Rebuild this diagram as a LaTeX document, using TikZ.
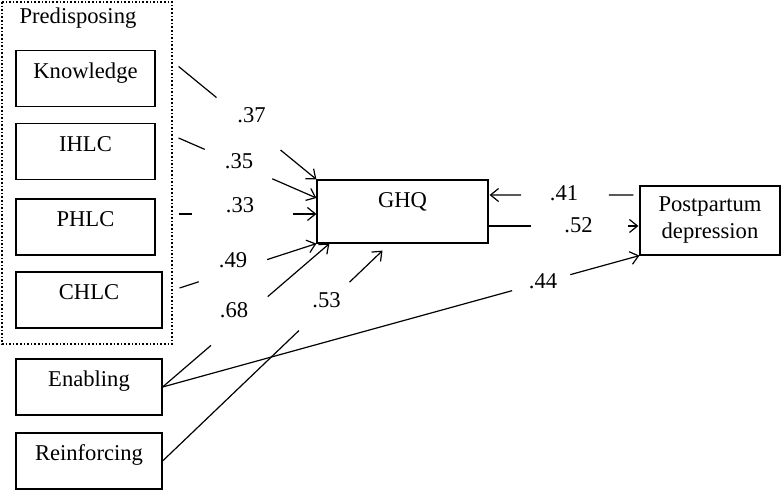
\documentclass[tikz,border=0pt]{standalone}
\usepackage{fontspec}
\setmainfont{Liberation Serif}
\usetikzlibrary{arrows.meta, calc}

\begin{document}
\begin{tikzpicture}[x=0.5pt, y=-0.5pt,
    font=\fontsize{11.3}{13.5}\selectfont,
    line width=0.6pt,
    factor/.style={draw, minimum height=28pt, text height=6pt, text depth=6pt, inner sep=0pt},
    effect/.style={-{Straight Barb[length=4pt, width=6.5pt]}},
    coef/.style={inner sep=1pt}]
    \useasboundingbox (0,0) rectangle (782,491);

    % predisposing factors
    \draw[densely dotted, line width=0.8pt] (2,2) rectangle (172,344);
    \node[anchor=base west, inner sep=0pt] (pre) at (19,24) {Predisposing};
    \node[factor, minimum width=69.5pt] (know) at (85.5,78.5) {Knowledge};
    \node[factor, minimum width=69.5pt] (ihlc) at (85.5,151.5) {IHLC};
    \node[factor, minimum width=69.5pt] (phlc) at (85.5,227) {PHLC};
    \node[factor, minimum width=73pt] (chlc) at (89,300) {CHLC};

    \node[factor, minimum width=73pt] (enab) at (89,387) {Enabling};
    \node[factor, minimum width=73pt] (rein) at (89,461) {Reinforcing};

    \node[draw, minimum width=85.5pt, minimum height=31.5pt, text height=6pt, text depth=9.5pt, inner sep=0pt] (ghq) at (402.5,211.5) {GHQ};
    \node[draw, minimum width=70pt, minimum height=34.5pt, align=center, inner sep=0pt] (post) at (710,220.5) {Postpartum\\ depression};

    % loose ends
    \coordinate (k0) at ($(know.east)+(23,-12)$);
    \coordinate (i0) at ($(ihlc.east)+(23,-13.5)$);
    \coordinate (p0) at ($(phlc.east)+(23,-13)$);
    \coordinate (c0) at ($(chlc.east)+(17,-12)$);
    \coordinate (g35) at ($(ghq.west)+(0,-13.5)$);
    \coordinate (g33) at ($(ghq.west)+(0,2.5)$);
    \coordinate (g68) at ($(ghq.south west)+(13,0)$);
    \coordinate (g53) at ($(ghq.south)+(-20,7)$);
    \coordinate (g52) at ($(ghq.east)+(0,14.5)$);
    \coordinate (g41) at ($(ghq.east)+(1,-16.5)$);
    \coordinate (d52) at ($(post.west)+(-1,5.5)$);
    \coordinate (d41) at ($(post.west)+(-6,-25.5)$);

    % paths
    \draw[effect] (k0) -- ($(k0)!.275!(ghq.north west)$) ($(k0)!.74!(ghq.north west)$) -- (ghq.north west);
    \draw[effect] (i0) -- ($(i0)!.19!(g35)$) ($(i0)!.68!(g35)$) -- (g35);
    \draw[effect] (p0) -- ($(p0)!.10!(g33)$) ($(p0)!.83!(g33)$) -- (g33);
    \draw[effect] (c0) -- ($(c0)!.14!(ghq.south west)$) ($(c0)!.64!(ghq.south west)$) -- (ghq.south west);
    \draw[effect] (enab.east) -- ($(enab.east)!.29!(g68)$) ($(enab.east)!.63!(g68)$) -- (g68);
    \draw[effect] (rein.east) -- ($(rein.east)!.62!(g53)$) ($(rein.east)!.85!(g53)$) -- (g53);
    \draw[effect] (enab.east) -- ($(enab.east)!.733!(post.south west)$) ($(enab.east)!.855!(post.south west)$) -- (post.south west);
    \draw[effect] (g52) -- ($(g52)!.28!(d52)$) ($(g52)!.933!(d52)$) -- (d52);
    \draw[effect] (d41) -- ($(d41)!.17!(g41)$) ($(d41)!.78!(g41)$) -- (g41);

    % coefficients
    \node[coef] (w37) at (251.5,115) {.37};
    \node[coef] (w35) at (239,161.5) {.35};
    \node[coef] (w33) at (240,205) {.33};
    \node[coef] (w49) at (233,260.5) {.49};
    \node[coef] (w68) at (234,310.5) {.68};
    \node[coef] (w53) at (326.5,300) {.53};
    \node[coef] (w41) at (564,193.5) {.41};
    \node[coef] (w52) at (578.5,225.5) {.52};
    \node[coef] (w44) at (543,281) {.44};
\end{tikzpicture}
\end{document}
